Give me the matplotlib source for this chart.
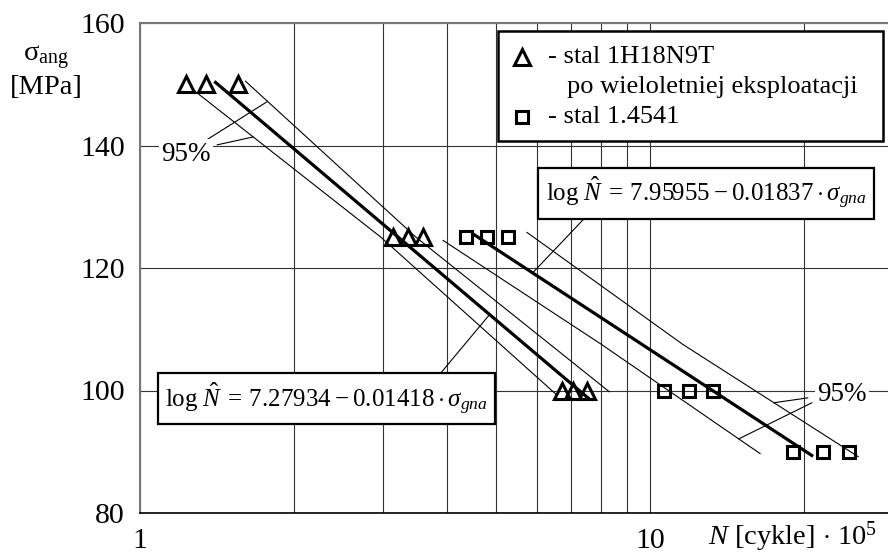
import numpy as np
import matplotlib.pyplot as plt

plt.rcParams['font.family'] = 'Liberation Serif'
plt.rcParams['mathtext.fontset'] = 'custom'
plt.rcParams['mathtext.rm'] = 'Liberation Serif'
plt.rcParams['mathtext.it'] = 'Liberation Serif:italic'

# stal 1H18N9T po wieloletniej eksploatacji (triangles), N in 10^5 cycles
tri_sigma = [150, 150, 150, 125, 125, 125, 100, 100, 100]
tri_N = [1.23, 1.35, 1.56, 3.13, 3.35, 3.59, 6.72, 7.06, 7.52]
# stal 1.4541 (squares)
sq_sigma = [125, 125, 125, 100, 100, 100, 90, 90, 90]
sq_N = [4.36, 4.79, 5.27, 10.65, 11.92, 13.29, 19.07, 21.85, 24.57]

# regression log N = a - b*sigma and the stress range it is drawn over
tri_a, tri_b = 7.27934, 0.01418
sq_a, sq_b = 7.95955, 0.01837
tri_fit_sigma = [150.3, 98.8]
sq_fit_sigma = [125.4, 89.4]

# 95% confidence bands
tri_upper_sigma = [150.5, 125.0, 99.8]
tri_upper_N = [1.61, 3.48, 8.32]
tri_lower_sigma = [148.9, 125.0, 99.2]
tri_lower_N = [1.28, 2.97, 6.58]
sq_upper_sigma = [125.8, 107.5, 89.2]
sq_upper_N = [5.74, 11.61, 25.6]
sq_lower_sigma = [124.5, 107.5, 89.7]
sq_lower_N = [3.93, 8.04, 16.44]

y_ticks = [80, 100, 120, 140, 160]
x_ticks = [1, 10]
x_minor = [2, 3, 4, 5, 6, 7, 8, 9, 20]


def fit_N(a, b, sig):
    sig = np.asarray(sig, dtype=float)
    return 10 ** (a - b * sig - 5)


def band_at(sig, band_sigma, band_N):
    s = np.asarray(band_sigma)[::-1]
    n = np.log10(np.asarray(band_N))[::-1]
    return 10 ** np.interp(sig, s, n)


fig = plt.figure(figsize=(8.88, 5.54), dpi=100)
ax = fig.add_axes([140 / 888, 41 / 554, 748 / 888, 490 / 554])
ax.set_xscale('log')
ax.set_xlim(1, 29.29)
ax.set_ylim(80, 160)

ax.set_xticks(x_ticks)
ax.set_xticklabels(['1', '10'])
ax.set_xticks(x_minor, minor=True)
ax.set_xticklabels([], minor=True)
ax.set_yticks(y_ticks)
ax.tick_params(which='both', length=0, labelsize=21.5, pad=11)
ax.grid(True, which='both', color='#333333', lw=0.8)
ax.set_axisbelow(True)
for side in ['left', 'top']:
    ax.spines[side].set_color('#777777')
    ax.spines[side].set_linewidth(1.5)
ax.spines['bottom'].set_color('black')
ax.spines['bottom'].set_linewidth(1.2)
ax.spines['right'].set_visible(False)

# confidence bands
for bs, bn in [(tri_upper_sigma, tri_upper_N), (tri_lower_sigma, tri_lower_N),
               (sq_upper_sigma, sq_upper_N), (sq_lower_sigma, sq_lower_N)]:
    ax.plot(bn, bs, color='black', lw=0.8)

# regression lines
ax.plot(fit_N(tri_a, tri_b, tri_fit_sigma), tri_fit_sigma, color='black', lw=2.3)
ax.plot(fit_N(sq_a, sq_b, sq_fit_sigma), sq_fit_sigma, color='black', lw=2.3)

# measured points
ax.plot(tri_N, tri_sigma, ls='none', marker='^', ms=12, mew=2.2,
        mfc='none', mec='black', zorder=5)
ax.plot(sq_N, sq_sigma, ls='none', marker='s', ms=9, mew=2.2,
        mfc='none', mec='black', zorder=5)

lead = dict(arrowstyle='-', color='black', lw=0.8, shrinkA=0, shrinkB=0)

# 95% labels with leaders to the band lines
ax.text(1.231, 138.5, '95%', fontsize=19.5, ha='center', va='center',
        bbox=dict(facecolor='white', edgecolor='none', pad=2), zorder=4)
ax.annotate('', xy=(band_at(147.2, tri_upper_sigma, tri_upper_N), 147.2),
            xytext=(1.353, 140.95), arrowprops=lead)
ax.annotate('', xy=(band_at(141.4, tri_lower_sigma, tri_lower_N), 141.4),
            xytext=(1.416, 140.1), arrowprops=lead)

ax.text(23.8, 99.4, '95%', fontsize=19.5, ha='center', va='center',
        bbox=dict(facecolor='white', edgecolor='none', pad=2), zorder=4)
ax.annotate('', xy=(band_at(98.0, sq_upper_sigma, sq_upper_N), 98.0),
            xytext=(20.4, 98.8), arrowprops=lead)
ax.annotate('', xy=(band_at(92.1, sq_lower_sigma, sq_lower_N), 92.1),
            xytext=(20.78, 98.0), arrowprops=lead)

# regression equations
box = dict(boxstyle='square,pad=0.3', facecolor='white', edgecolor='black', lw=1.6)
eq_sq = r'$\log\,\hat{N}\:=\:7.95955\:-\:0.01837\cdot\sigma_{gna}$'
eq_tri = r'$\log\,\hat{N}\:=\:7.27934\:-\:0.01418\cdot\sigma_{gna}$'
ax.text(12.88, 132.2, eq_sq, fontsize=18, ha='center', va='center',
        bbox=box, zorder=6)
ax.annotate('', xy=(fit_N(sq_a, sq_b, 119.2), 119.2), xytext=(7.457, 128.2),
            arrowprops=lead)
ax.text(2.322, 98.7, eq_tri, fontsize=18, ha='center', va='center',
        bbox=box, zorder=6)
ax.annotate('', xy=(fit_N(tri_a, tri_b, 112.4), 112.4), xytext=(3.874, 102.7),
            arrowprops=lead)

# legend drawn by hand
ax.add_patch(plt.Rectangle((0.4786, 0.7592), 0.5147, 0.2245, transform=ax.transAxes,
                           facecolor='white', edgecolor='black', lw=1.8, zorder=6))
ax.plot([0.5107], [0.9306], transform=ax.transAxes, marker='^', ms=12, mew=2.2,
        mfc='none', mec='black', zorder=7, clip_on=False)
ax.plot([0.5107], [0.8082], transform=ax.transAxes, marker='s', ms=9, mew=2.2,
        mfc='none', mec='black', zorder=7, clip_on=False)
ax.text(0.5455, 0.9306, '- stal 1H18N9T', transform=ax.transAxes, fontsize=19,
        va='center', zorder=7)
ax.text(0.5709, 0.8694, 'po wieloletniej eksploatacji', transform=ax.transAxes,
        fontsize=19, va='center', zorder=7)
ax.text(0.5455, 0.8082, '- stal 1.4541', transform=ax.transAxes, fontsize=19,
        va='center', zorder=7)

# axis titles
fig.text(46 / 888, 1 - 58 / 554, 'σ$_{\\mathrm{ang}}$', fontsize=20.5,
         ha='center', va='center')
fig.text(46 / 888, 1 - 88 / 554, '[MPa]', fontsize=20.5, ha='center', va='center')
ax.text(0.985, -0.049, r'$N$ [cykle] $\cdot$ 10$^5$', transform=ax.transAxes,
        fontsize=20.5, ha='right', va='center')

fig.savefig('out.png', dpi=100)
